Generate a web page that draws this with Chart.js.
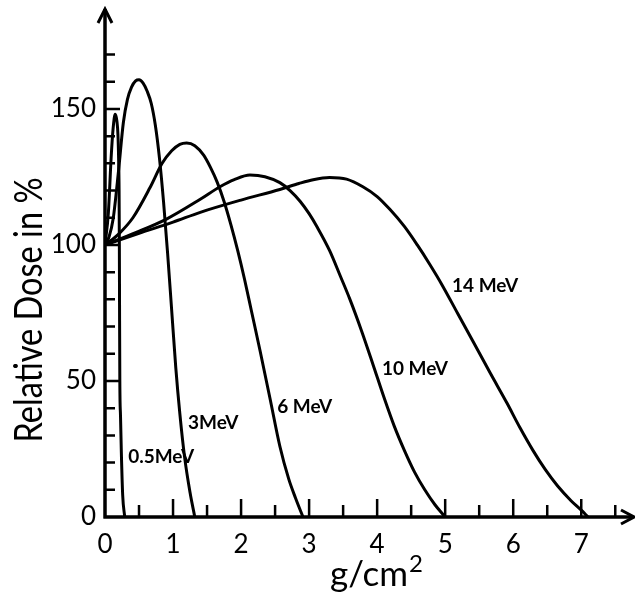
<!DOCTYPE html>
<html>
<head>
<meta charset="utf-8" />
<script src="https://cdn.jsdelivr.net/npm/chart.js@4/dist/chart.umd.min.js"></script>
<style>
  body { margin: 0; background: #fff; }
  #wrap { position: relative; width: 635px; height: 592px; }
</style>
</head>
<body>
<div id="wrap"><canvas id="myChart"></canvas></div>
<script>
// depth (g/cm2) and relative dose (%), one pair per energy
const x05 = [0, 0.05, 0.09, 0.12, 0.15, 0.175, 0.19, 0.2, 0.207, 0.211, 0.214, 0.218, 0.228, 0.24, 0.26, 0.29];
const y05 = [100, 112, 132, 143, 148, 145.5, 140.7, 132, 120, 100, 75, 50, 37, 24, 8, 0];

const x3 = [0, 0.06, 0.12, 0.2, 0.27, 0.33, 0.39, 0.45, 0.5, 0.56, 0.62, 0.68, 0.74, 0.8, 0.86, 0.92, 0.98, 1.04, 1.1, 1.17, 1.25, 1.32];
const y3 = [100, 103, 109.6, 127.5, 145, 153.5, 158, 160.3, 160.7, 159.5, 156.5, 152, 144, 132, 116, 97, 76, 55, 38, 22, 9, 0];

const x6 = [0, 0.2, 0.41, 0.66, 0.84, 0.98, 1.1, 1.2, 1.32, 1.45, 1.55, 1.65, 1.75, 1.85, 1.95, 2.05, 2.15, 2.28, 2.43, 2.57, 2.7, 2.8, 2.91];
const y6 = [100, 104, 110, 121, 130, 134.6, 137, 137.5, 136.5, 133, 128.5, 123, 116, 107.5, 98, 87.5, 76, 61, 43, 26, 14, 7, 0];

const x10 = [0, 0.45, 0.91, 1.4, 1.69, 1.9, 2.13, 2.35, 2.57, 2.72, 2.87, 3.0, 3.12, 3.3, 3.46, 3.6, 3.77, 3.94, 4.1, 4.25, 4.4, 4.55, 4.7, 4.85, 5.0];
const y10 = [100, 104.5, 109.6, 116.8, 121.4, 124, 125.7, 125.1, 122.9, 120, 116, 111.5, 106.5, 98, 88.5, 80, 68.5, 56, 44, 33.5, 24.5, 16.5, 10, 4.5, 0];

const x14 = [0, 0.5, 1.0, 1.4, 2.0, 2.57, 2.85, 3.06, 3.3, 3.55, 3.79, 4.0, 4.19, 4.4, 4.59, 4.77, 4.95, 5.18, 5.41, 5.66, 5.91, 6.1, 6.29, 6.47, 6.65, 6.85, 7.0, 7.1];
const y14 = [100, 104.3, 108.4, 112, 116.5, 120.4, 122.6, 124, 124.8, 124.2, 121.4, 117.8, 113, 106.8, 100, 93, 85.5, 75, 64.5, 53, 41.8, 32.8, 24.5, 17.5, 11.5, 6, 2.5, 0];

const energyLabels = ["0.5MeV", "3MeV", "6 MeV", "10 MeV", "14 MeV"];

// tick labels
const xTickValues = [0, 1, 2, 3, 4, 5, 6, 7];
const yTickValues = [0, 50, 100, 150];

// turn two arrays into {x, y} points
function toPoints(xs, ys) {
  return xs.map((x, i) => ({ x: x, y: ys[i] }));
}

const curves = [
  toPoints(x05, y05),
  toPoints(x3, y3),
  toPoints(x6, y6),
  toPoints(x10, y10),
  toPoints(x14, y14),
];

// draws the axes with arrows, inward ticks, titles and curve labels
const figurePlugin = {
  id: "figure",
  afterDraw(chart) {
    const { ctx, scales } = chart;
    const xs = scales.x;
    const ys = scales.y;
    const x0 = xs.getPixelForValue(0);
    const y0 = ys.getPixelForValue(0);

    ctx.save();
    ctx.strokeStyle = "#000";
    ctx.fillStyle = "#000";
    ctx.lineWidth = 3.5;

    // axis lines
    ctx.beginPath();
    ctx.moveTo(x0, y0 + 1.5);
    ctx.lineTo(x0, 9);
    ctx.moveTo(x0 - 1.5, y0);
    ctx.lineTo(633, y0);
    ctx.stroke();

    // arrow heads
    ctx.lineWidth = 3;
    ctx.beginPath();
    ctx.moveTo(x0 - 7, 23);
    ctx.lineTo(x0, 9);
    ctx.lineTo(x0 + 7, 23);
    ctx.moveTo(621, y0 - 7);
    ctx.lineTo(634, y0);
    ctx.lineTo(621, y0 + 7);
    ctx.stroke();

    // y ticks every 10, pointing into the plot
    ctx.lineWidth = 2.5;
    ctx.beginPath();
    for (let v = 10; v <= 170; v += 10) {
      const py = ys.getPixelForValue(v);
      const len = v % 50 === 0 ? 15 : 10;
      ctx.moveTo(x0, py);
      ctx.lineTo(x0 + len, py);
    }
    // x ticks every 0.5, pointing up
    for (let v = 0.5; v <= 7.5; v += 0.5) {
      const px = xs.getPixelForValue(v);
      const len = Number.isInteger(v) ? 18 : 12;
      ctx.moveTo(px, y0);
      ctx.lineTo(px, y0 - len);
    }
    ctx.stroke();

    // y axis title, squeezed to the length it has in the figure
    const yTitle = "Relative Dose in %";
    ctx.save();
    ctx.translate(30, 310);
    ctx.rotate(-Math.PI / 2);
    ctx.font = "38px Lato";
    const w = ctx.measureText(yTitle).width;
    ctx.scale(265 / w, 1);
    ctx.textAlign = "center";
    ctx.textBaseline = "middle";
    ctx.fillText(yTitle, 0, 0);
    ctx.restore();

    // x axis title with a raised 2
    ctx.textAlign = "left";
    ctx.textBaseline = "alphabetic";
    ctx.font = "35px Lato";
    ctx.fillText("g/cm", 330, 586);
    const gw = ctx.measureText("g/cm").width;
    ctx.font = "24px Lato";
    ctx.fillText("2", 330 + gw + 1, 572);

    // curve labels, placed in data units
    const labelSpots = [
      [0.34, 22],
      [1.22, 34.6],
      [2.53, 40.4],
      [4.07, 54.6],
      [5.1, 85],
    ];
    ctx.font = "bold 19px Lato";
    ctx.textBaseline = "middle";
    energyLabels.forEach((label, i) => {
      const [lx, ly] = labelSpots[i];
      ctx.fillText(label, xs.getPixelForValue(lx), ys.getPixelForValue(ly));
    });

    ctx.restore();
  },
};

const ctx = document.getElementById("myChart");

new Chart(ctx, {
  type: "line",
  data: {
    datasets: curves.map((pts, i) => ({
      label: energyLabels[i],
      data: pts,
      borderColor: "#000",
      borderWidth: 3,
      pointRadius: 0,
      cubicInterpolationMode: "monotone",
      fill: false,
    })),
  },
  options: {
    responsive: true,
    maintainAspectRatio: false,
    animation: false,
    layout: { padding: { top: 10, right: 0, left: 0, bottom: 0 } },
    plugins: {
      legend: { display: false },
      tooltip: { enabled: false },
    },
    scales: {
      x: {
        type: "linear",
        min: 0,
        max: 7.79,
        grid: { display: false, drawTicks: false },
        border: { display: false },
        afterBuildTicks: (scale) => {
          scale.ticks = xTickValues.map((v) => ({ value: v }));
        },
        afterFit: (scale) => {
          scale.height = 75;
        },
        ticks: {
          padding: 12,
          color: "#000",
          font: { family: "Lato", size: 26 },
        },
      },
      y: {
        type: "linear",
        min: 0,
        max: 181,
        grid: { display: false, drawTicks: false },
        border: { display: false },
        afterBuildTicks: (scale) => {
          scale.ticks = yTickValues.map((v) => ({ value: v }));
        },
        afterFit: (scale) => {
          scale.width = 105;
        },
        ticks: {
          padding: 9,
          color: "#000",
          font: { family: "Lato", size: 26 },
        },
      },
    },
  },
  plugins: [figurePlugin],
});
</script>
</body>
</html>
